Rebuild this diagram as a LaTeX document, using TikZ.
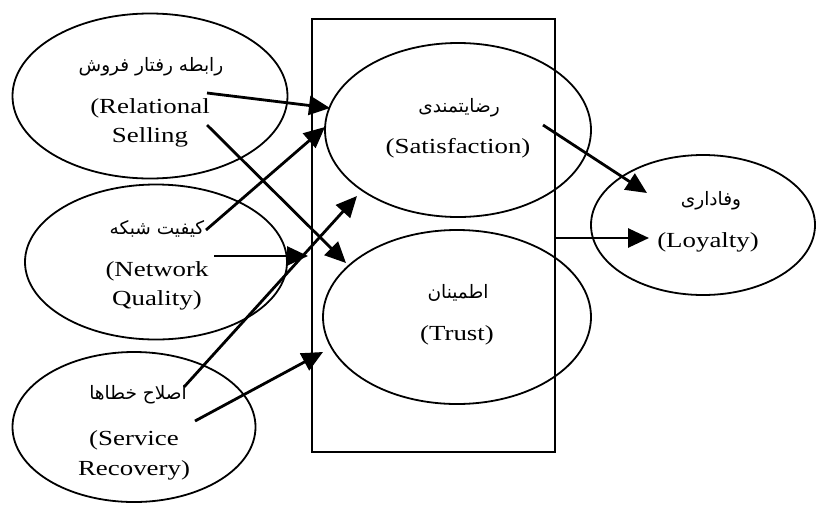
\documentclass[tikz,border=0pt]{standalone}
\usepackage{fontspec}
\setmainfont{Liberation Serif}[FakeStretch=1.25]
\newfontfamily\fa[Script=Arabic]{DejaVu Sans}
\TeXXeTstate=1
\usetikzlibrary{shapes.geometric,arrows.meta}
\tikzset{
  oval/.style={ellipse, draw, line width=1.8pt, inner sep=0pt, outer sep=0pt},
  lat/.style={font=\fontsize{21.5}{25}\selectfont, inner sep=0pt, anchor=base},
  per/.style={font=\fa\fontsize{18.5}{20}\selectfont, inner sep=0pt},
  arr/.style={line width=2.8pt, -{Triangle[length=21pt,width=19pt]}, shorten >=0pt}
}
\begin{document}
\begin{tikzpicture}[x=1pt,y=-1pt]
\useasboundingbox (0,0) rectangle (816,504);
% box
\node[draw, line width=2pt, minimum width=243pt, minimum height=433pt, inner sep=0pt] (box) at (433.5,235.5) {};
% ellipses
\node[oval, minimum width=275pt, minimum height=165pt] (rsE) at (150,96) {};
\node[oval, minimum width=262pt, minimum height=155pt] (nqE) at (156,262) {};
\node[oval, minimum width=243pt, minimum height=150pt] (srE) at (134,427) {};
\node[oval, minimum width=266pt, minimum height=174pt] (satE) at (458,130) {};
\node[oval, minimum width=268pt, minimum height=174pt] (trE) at (457,317) {};
\node[oval, minimum width=224pt, minimum height=140pt] (loE) at (703,225) {};
% texts
\node[per] (rsP) at (151,67) {\beginR رابطه رفتار فروش\endR};
\node[lat] (rsL1) at (150,113) {(Relational};
\node[lat] (rsL2) at (150,142) {Selling};
\node[per] (nqP) at (157,229) {\beginR کیفیت شبکه\endR};
\node[lat] (nqL1) at (157,276) {(Network};
\node[lat] (nqL2) at (157,305) {Quality)};
\node[per] (srP) at (138,395) {\beginR اصلاح خطاها\endR};
\node[lat] (srL1) at (134,445) {(Service};
\node[lat] (srL2) at (134,475) {Recovery)};
\node[per] (satP) at (459,108) {\beginR رضایتمندی\endR};
\node[lat] (satL) at (458,153) {(Satisfaction)};
\node[per] (trP) at (458,293) {\beginR اطمینان\endR};
\node[lat] (trL) at (457,340) {(Trust)};
\node[per] (loP) at (711,201) {\beginR وفاداری\endR};
\node[lat] (loL) at (708,247) {(Loyalty)};
% arrow ends
\coordinate (s1) at (207,93);  \coordinate (t1) at (330,108);
\coordinate (s2) at (207,125); \coordinate (t2) at (346,263);
\coordinate (s3) at (206,230); \coordinate (t3) at (325,127);
\coordinate (s4) at (214,256); \coordinate (t4) at (308,256);
\coordinate (s5) at (184,387); \coordinate (t5) at (357,196);
\coordinate (s6) at (195,421); \coordinate (t6) at (323,352);
\coordinate (s7) at (543,125); \coordinate (t7) at (647,193);
\coordinate (s8) at (555,238); \coordinate (t8) at (649,238);
\draw[arr] (s1) -- (t1);
\draw[arr] (s2) -- (t2);
\draw[arr] (s3) -- (t3);
\draw[arr] (s4) -- (t4);
\draw[arr] (s5) -- (t5);
\draw[arr] (s6) -- (t6);
\draw[arr] (s7) -- (t7);
\draw[arr] (s8) -- (t8);
\end{tikzpicture}
\end{document}
